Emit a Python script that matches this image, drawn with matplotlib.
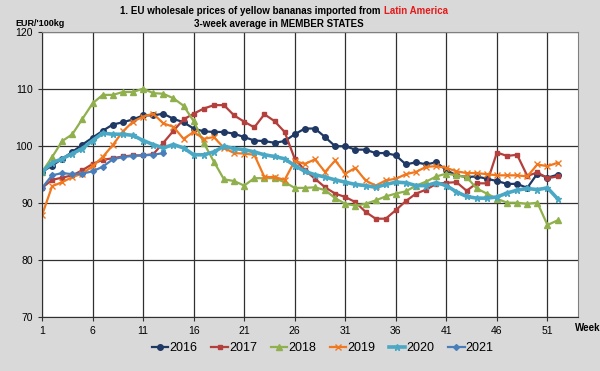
import matplotlib.pyplot as plt

plt.rcParams['font.family'] = ['Liberation Sans', 'DejaVu Sans']

weeks = list(range(1, 53))

p2016 = [95.4, 96.5, 97.7, 98.9, 100.2, 101.4, 102.6, 103.7, 104.1, 104.6,
         105.3, 105.3, 105.6, 104.7, 104.1, 103.0, 102.5, 102.4, 102.4, 102.1,
         101.5, 100.9, 100.8, 100.5, 100.8, 102.0, 103.0, 103.0, 101.5, 99.9,
         99.9, 99.3, 99.3, 98.7, 98.7, 98.3, 96.7, 97.1, 96.7, 97.1,
         95.7, 94.8, 94.5, 94.6, 94.2, 93.8, 93.3, 93.3, 92.6, 95.1,
         94.4, 94.9]
p2017 = [92.6, 94.0, 94.4, 94.8, 95.7, 96.8, 97.5, 97.8, 98.1, 98.3,
         98.3, 98.5, 100.5, 102.6, 104.6, 105.6, 106.5, 107.1, 107.1, 105.3,
         104.2, 103.2, 105.5, 104.3, 102.4, 97.7, 95.7, 94.2, 92.7, 91.6,
         91.0, 90.1, 88.4, 87.2, 87.2, 88.7, 90.3, 91.6, 92.3, 93.3,
         93.5, 93.6, 92.1, 93.4, 93.4, 98.8, 98.2, 98.4, 94.7, 95.3,
         94.3, 94.6]
p2018 = [95.4, 98.0, 100.8, 102.0, 104.7, 107.4, 108.9, 108.9, 109.4, 109.4,
         110.0, 109.2, 109.1, 108.3, 107.0, 104.3, 100.5, 97.2, 94.1, 93.8,
         93.0, 94.3, 94.3, 94.3, 93.6, 92.6, 92.6, 92.7, 92.2, 90.8,
         89.8, 89.5, 89.8, 90.4, 91.1, 91.6, 92.0, 93.0, 93.7, 94.6,
         95.1, 94.8, 94.5, 92.5, 91.6, 90.7, 90.0, 90.0, 89.8, 90.0,
         86.1, 86.9]
p2019 = [87.8, 92.9, 93.6, 94.5, 95.1, 96.4, 98.0, 100.1, 102.5, 104.2,
         105.1, 105.6, 103.9, 103.3, 101.2, 102.4, 101.2, 101.5, 99.6, 98.7,
         98.6, 98.4, 94.5, 94.5, 94.0, 97.3, 96.8, 97.6, 95.4, 97.4,
         95.1, 96.1, 93.9, 93.0, 93.9, 94.2, 95.0, 95.4, 96.3, 96.4,
         96.1, 95.5, 95.2, 95.2, 95.0, 94.8, 94.8, 94.8, 94.6, 96.7,
         96.4, 97.0]
p2020 = [95.4, 97.0, 97.7, 98.6, 99.5, 100.9, 102.2, 102.0, 102.0, 101.8,
         100.9, 100.2, 99.6, 100.2, 99.6, 98.4, 98.4, 98.9, 99.9, 99.5,
         99.3, 98.9, 98.4, 98.1, 97.7, 96.5, 95.5, 94.9, 94.5, 94.0,
         93.6, 93.2, 93.0, 92.7, 93.2, 93.6, 93.5, 93.0, 93.0, 93.5,
         93.0, 91.9, 91.1, 90.8, 90.8, 91.0, 91.7, 92.2, 92.5, 92.3,
         92.6, 90.7]
p2021 = [92.6, 94.8, 95.2, 95.0, 95.1, 95.5, 96.3, 97.6, 98.0, 98.2,
         98.3, 98.4, 98.7]

series = [
    ('2016', p2016, '#1f3864', 'o', 1.6, 4),
    ('2017', p2017, '#b3403c', 's', 1.6, 3.5),
    ('2018', p2018, '#8fb04c', '^', 1.6, 4),
    ('2019', p2019, '#f0781e', 'x', 1.6, 4),
    ('2020', p2020, '#4aa8c4', '*', 2.6, 5),
    ('2021', p2021, '#4a7ebb', 'D', 1.6, 3),
]

fig = plt.figure(figsize=(6, 3.71), dpi=100, facecolor='#d9d9d9')
ax = fig.add_axes([0.07, 0.146, 0.893, 0.769])
ax.set_facecolor('white')

for name, vals, col, mk, lw, ms in series:
    ax.plot(weeks[:len(vals)], vals, color=col, marker=mk, lw=lw, ms=ms,
            mew=1, label=name)

ax.set_xlim(1, 54)
ax.set_ylim(70, 120)
ax.set_xticks(range(1, 52, 5))
ax.set_yticks(range(70, 121, 10))
ax.grid(True, color='#303030', lw=0.9)
ax.tick_params(labelsize=7.5, length=3, color='#303030')
for s in ['top', 'right']:
    ax.spines[s].set_color('#808080')
for s in ['left', 'bottom']:
    ax.spines[s].set_color('#303030')

fig.text(383, 371 - 10.5, '1. EU wholesale prices of yellow bananas imported from ',
         transform=None, ha='right', va='center', fontsize=7, fontweight='bold')
fig.text(384, 371 - 10.5, 'Latin America', transform=None, ha='left',
         va='center', fontsize=7, fontweight='bold', color='#e51a1a')
fig.text(279, 371 - 24, '3-week average in MEMBER STATES', transform=None,
         ha='center', va='center', fontsize=7, fontweight='bold')
fig.text(15, 371 - 23.5, "EUR/'100kg", transform=None, ha='left', va='center',
         fontsize=6.5, fontweight='bold')
fig.text(575, 371 - 328, 'Week', transform=None, ha='left', va='center',
         fontsize=7, fontweight='bold')

ax.legend(loc='center', bbox_to_anchor=(323 / 600, 1 - 348 / 371),
          bbox_transform=fig.transFigure, ncol=6, frameon=False, fontsize=9,
          handlelength=1.3, handletextpad=0.1, columnspacing=1.1)

fig.savefig('out.png', dpi=100, facecolor=fig.get_facecolor())
